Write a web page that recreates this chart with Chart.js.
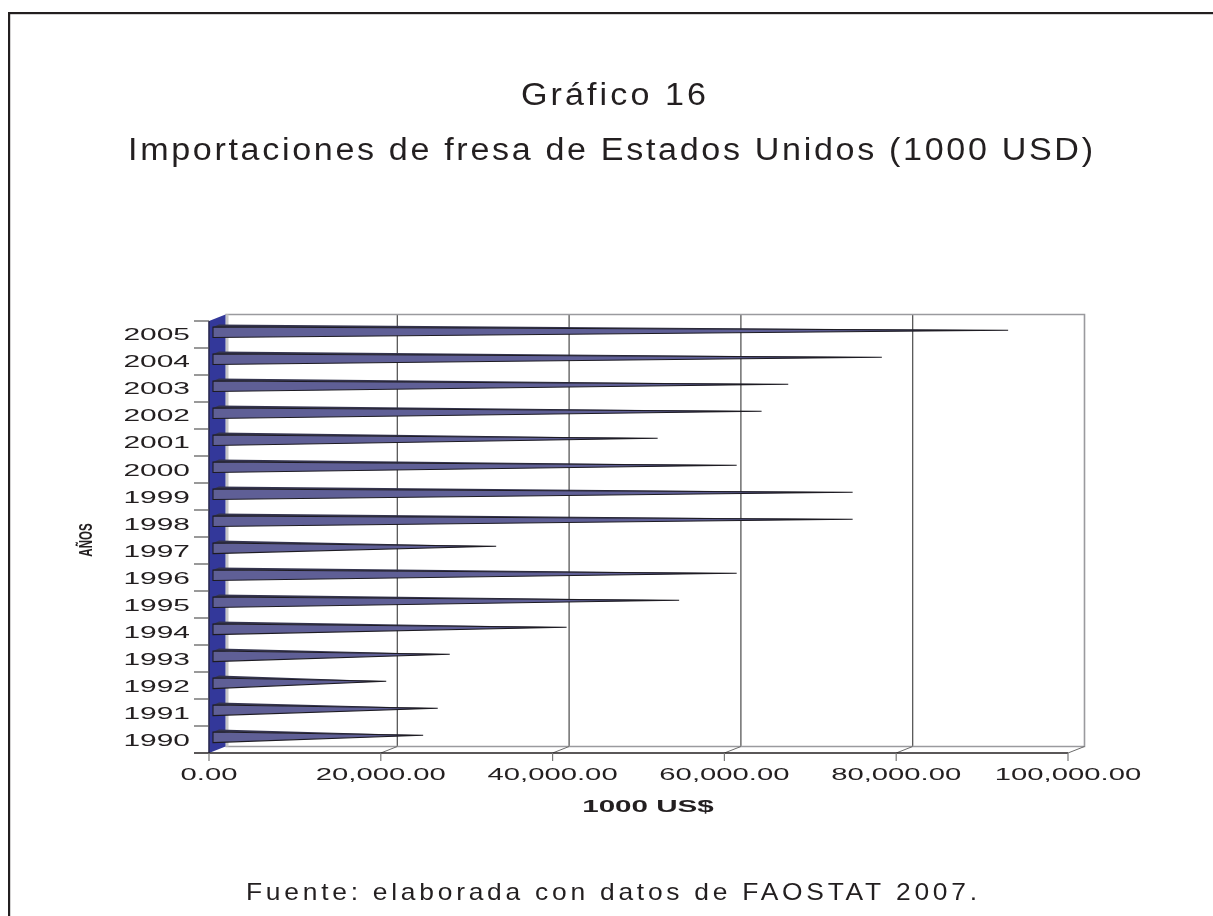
<!DOCTYPE html>
<html lang="es">
<head>
<meta charset="utf-8">
<title>Gráfico 16</title>
<style>html,body{margin:0;padding:0;background:#fff;overflow:hidden}canvas{display:block}</style>
<script src="https://cdn.jsdelivr.net/npm/chart.js@4"></script>
</head>
<body>
<canvas id="c" width="1213" height="916"></canvas>
<script>
const years = ['2005','2004','2003','2002','2001','2000','1999','1998','1997','1996','1995','1994','1993','1992','1991','1990'];
const imports = [92100,77400,66500,63400,51300,60500,74000,74000,32500,60500,53800,40700,27100,19700,25700,24000];
const titleLines = ['Gráfico 16','Importaciones de fresa de Estados Unidos (1000 USD)'];
const sourceNote = 'Fuente: elaborada con datos de FAOSTAT 2007.';
const xAxisTitle = '1000 US$';
const yAxisTitle = 'AÑOS';

const INK = '#231f20', DX = 16.5, DY = -6.5;
const FONT = '"Liberation Sans", Arial, sans-serif';

function spaced(ctx, text, left, right, base, font, sx) {
  ctx.save();
  ctx.font = font; ctx.fillStyle = INK; ctx.textAlign = 'left'; ctx.textBaseline = 'alphabetic';
  ctx.letterSpacing = '0px';
  const natural = ctx.measureText(text).width;
  ctx.letterSpacing = (((right - left) / sx - natural) / (text.length - 1)) + 'px';
  ctx.translate(left, base); ctx.scale(sx, 1);
  ctx.fillText(text, 0, 0);
  ctx.restore();
}
function wide(ctx, text, cx, cy, sx, font, align) {
  ctx.save();
  ctx.translate(cx, cy); ctx.scale(sx, 1);
  ctx.font = font; ctx.fillStyle = INK; ctx.textAlign = align || 'center'; ctx.textBaseline = 'middle';
  ctx.fillText(text, 0, 0);
  ctx.restore();
}

const frame3d = {
  id: 'frame3d',
  beforeDatasetsDraw(chart) {
    const {ctx, chartArea: a, scales: {x, y}} = chart;
    ctx.save();
    ctx.fillStyle = '#231f20';
    ctx.fillRect(8, 12, 1205, 2.2);
    ctx.fillRect(8, 12, 2.2, 904);
    ctx.lineWidth = 1.2; ctx.strokeStyle = '#4a4a4a';
    x.ticks.forEach(t => {
      const px = x.getPixelForValue(t.value);
      if (t.value > 0 && t.value < x.max) {
        ctx.beginPath(); ctx.moveTo(px + DX, a.top + DY); ctx.lineTo(px + DX, a.bottom + DY); ctx.stroke();
      }
    });
    ctx.strokeStyle = '#9a9a9e'; ctx.lineWidth = 1.6;
    ctx.beginPath();
    ctx.moveTo(a.left + DX, a.top + DY); ctx.lineTo(a.right + DX, a.top + DY);
    ctx.lineTo(a.right + DX, a.bottom + DY); ctx.lineTo(a.left + DX, a.bottom + DY);
    ctx.stroke();
    ctx.strokeStyle = '#6a6a6a'; ctx.lineWidth = 1;
    x.ticks.forEach(t => {
      const px = x.getPixelForValue(t.value);
      if (t.value > 0) { ctx.beginPath(); ctx.moveTo(px, a.bottom); ctx.lineTo(px + DX, a.bottom + DY); ctx.stroke(); }
    });
    ctx.fillStyle = '#c8c8c8';
    ctx.fillRect(a.left + DX, a.top + DY, 3, a.height);
    ctx.fillStyle = '#33389a';
    ctx.beginPath();
    ctx.moveTo(a.left, a.top); ctx.lineTo(a.left + DX, a.top + DY);
    ctx.lineTo(a.left + DX, a.bottom + DY); ctx.lineTo(a.left, a.bottom);
    ctx.closePath(); ctx.fill();
    ctx.strokeStyle = '#2a2a50'; ctx.lineWidth = 1.6;
    ctx.beginPath(); ctx.moveTo(a.left, a.top); ctx.lineTo(a.left, a.bottom); ctx.stroke();
    ctx.strokeStyle = '#231f20'; ctx.lineWidth = 1.4;
    ctx.beginPath(); ctx.moveTo(a.left - 15, a.bottom); ctx.lineTo(a.right, a.bottom); ctx.stroke();
    ctx.strokeStyle = '#555'; ctx.lineWidth = 1.2;
    for (let i = 0; i < y.ticks.length; i++) {
      const py = y.getPixelForTick(i) - y.height / y.ticks.length / 2;
      ctx.beginPath(); ctx.moveTo(a.left - 15, py); ctx.lineTo(a.left, py); ctx.stroke();
    }
    ctx.strokeStyle = '#777';
    x.ticks.forEach(t => {
      const px = x.getPixelForValue(t.value);
      ctx.beginPath(); ctx.moveTo(px, a.bottom); ctx.lineTo(px, a.bottom + 8); ctx.stroke();
    });
    ctx.restore();
  },
  beforeDatasetDraw(chart, args) {
    const {ctx} = chart;
    const color = chart.data.datasets[args.index].backgroundColor;
    ctx.save();
    args.meta.data.forEach(el => {
      const lx = el.base + 4, cy = el.y - 2.2, h = el.height / 2;
      const tx = el.x + 8, ty = el.y - 4.3;
      ctx.fillStyle = '#34344e';
      ctx.beginPath(); ctx.moveTo(lx, cy - h); ctx.lineTo(lx + 6, cy - h - 2.5); ctx.lineTo(tx, ty); ctx.closePath(); ctx.fill();
      const g = ctx.createLinearGradient(lx, 0, tx, 0);
      g.addColorStop(0, color); g.addColorStop(0.75, color); g.addColorStop(1, '#2a2a40');
      ctx.fillStyle = g;
      ctx.beginPath(); ctx.moveTo(lx, cy - h); ctx.lineTo(lx, cy + h); ctx.lineTo(tx, ty); ctx.closePath(); ctx.fill();
      ctx.strokeStyle = '#1d1b22'; ctx.lineWidth = 1.1; ctx.lineJoin = 'miter';
      ctx.stroke();
    });
    ctx.restore();
    return false;
  },
  afterDraw(chart) {
    const {ctx, scales: {x, y}} = chart;
    y.ticks.forEach((t, i) => wide(ctx, t.label, 190, y.getPixelForTick(i) + 1 + i * 0.07, 1.76, '17px ' + FONT, 'right'));
    x.ticks.forEach(t => wide(ctx, t.label, x.getPixelForValue(t.value), 775, 1.72, '17px ' + FONT));
    wide(ctx, xAxisTitle, 648, 808, 1.85, 'bold 16px ' + FONT);
    ctx.save();
    ctx.translate(87, 540); ctx.rotate(-Math.PI / 2);
    wide(ctx, yAxisTitle, 0, 0, 0.64, 'bold 18px ' + FONT);
    ctx.restore();
    spaced(ctx, titleLines[0], 521, 706, 105, '31px ' + FONT, 1.1);
    spaced(ctx, titleLines[1], 128, 1093, 160, '31px ' + FONT, 1.1);
    spaced(ctx, sourceNote, 246, 977, 900, '24px ' + FONT, 1.1);
  }
};

new Chart(document.getElementById('c'), {
  type: 'bar',
  data: { labels: years, datasets: [{ label: 'Importaciones', data: imports, backgroundColor: '#5f5f96', barPercentage: 0.39, categoryPercentage: 1 }] },
  plugins: [frame3d],
  options: {
    indexAxis: 'y', responsive: false, animation: false,
    layout: { padding: { left: 209, right: 145, top: 321, bottom: 163 } },
    events: [],
    plugins: { legend: { display: false }, title: { display: false }, tooltip: { enabled: false } },
    scales: {
      x: { min: 0, max: 100000, grid: { display: false }, border: { display: false },
           afterFit: s => { s.height = 0; },
           ticks: { display: false, stepSize: 20000,
                    callback: v => v.toLocaleString('en-US', { minimumFractionDigits: 2, maximumFractionDigits: 2 }) } },
      y: { grid: { display: false }, border: { display: false },
           afterFit: s => { s.width = 0; },
           ticks: { display: false, autoSkip: false } }
    }
  }
});
</script>
</body>
</html>
